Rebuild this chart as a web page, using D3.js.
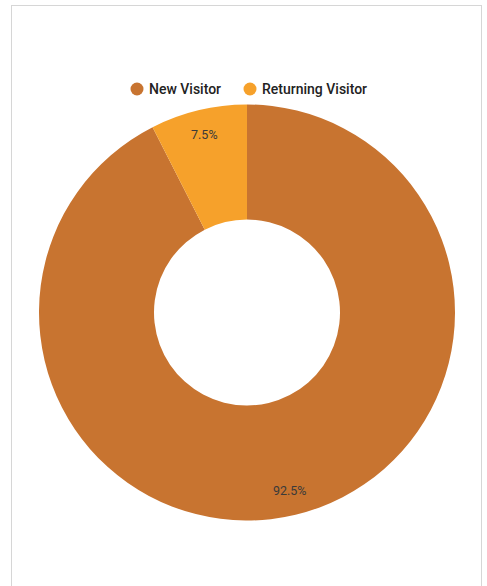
<!DOCTYPE html>
<html lang="en">
<head>
  <meta charset="UTF-8">
  <title>Visitors donut</title>
  <style>
    body { margin: 0; background: #fff; }
    svg { display: block; }
    text { font-family: Roboto, "Noto Sans", sans-serif; }
  </style>
</head>
<body>
  <svg id="chart" width="487" height="586"></svg>

  <script src="https://cdn.jsdelivr.net/npm/d3@7"></script>
  <script>
    // data
    const categories = ["New Visitor", "Returning Visitor"];
    const values = [92.5, 7.5];
    const colors = ["#c87430", "#f6a12b"];

    const svg = d3.select("#chart");

    // card border
    svg.append("rect")
      .attr("x", 11.5).attr("y", 5.5)
      .attr("width", 470).attr("height", 590)
      .attr("fill", "#fff")
      .attr("stroke", "#d6d6d6");

    const cx = 247, cy = 312.5;
    const outerR = 208, innerR = 93;

    const pie = d3.pie().sort(null).value(d => d.value);
    const arcs = pie(categories.map((c, i) => ({ name: c, value: values[i] })));
    const arc = d3.arc().innerRadius(innerR).outerRadius(outerR);
    const labelArc = d3.arc().innerRadius(183).outerRadius(183);
    const color = d3.scaleOrdinal().domain(categories).range(colors);

    const g = svg.append("g").attr("transform", `translate(${cx},${cy})`);

    g.selectAll("path")
      .data(arcs)
      .join("path")
      .attr("d", arc)
      .attr("fill", d => color(d.data.name));

    const total = d3.sum(values);
    g.selectAll("text.lbl")
      .data(arcs)
      .join("text")
      .attr("class", "lbl")
      .attr("transform", d => `translate(${labelArc.centroid(d)})`)
      .attr("text-anchor", "middle")
      .attr("dominant-baseline", "central")
      .attr("font-size", 12.5)
      .attr("fill", "#3a3a3a")
      .text(d => (d.data.value / total * 100).toFixed(1) + "%");

    // legend
    const legendX = [137, 250];
    const legend = svg.append("g");
    categories.forEach((c, i) => {
      legend.append("circle")
        .attr("cx", legendX[i]).attr("cy", 89)
        .attr("r", 6.5)
        .attr("fill", color(c));
      legend.append("text")
        .attr("x", legendX[i] + 12).attr("y", 89)
        .attr("dominant-baseline", "central")
        .attr("font-size", 14)
        .attr("font-weight", 500)
        .attr("fill", "#222")
        .text(c);
    });
  </script>
</body>
</html>
